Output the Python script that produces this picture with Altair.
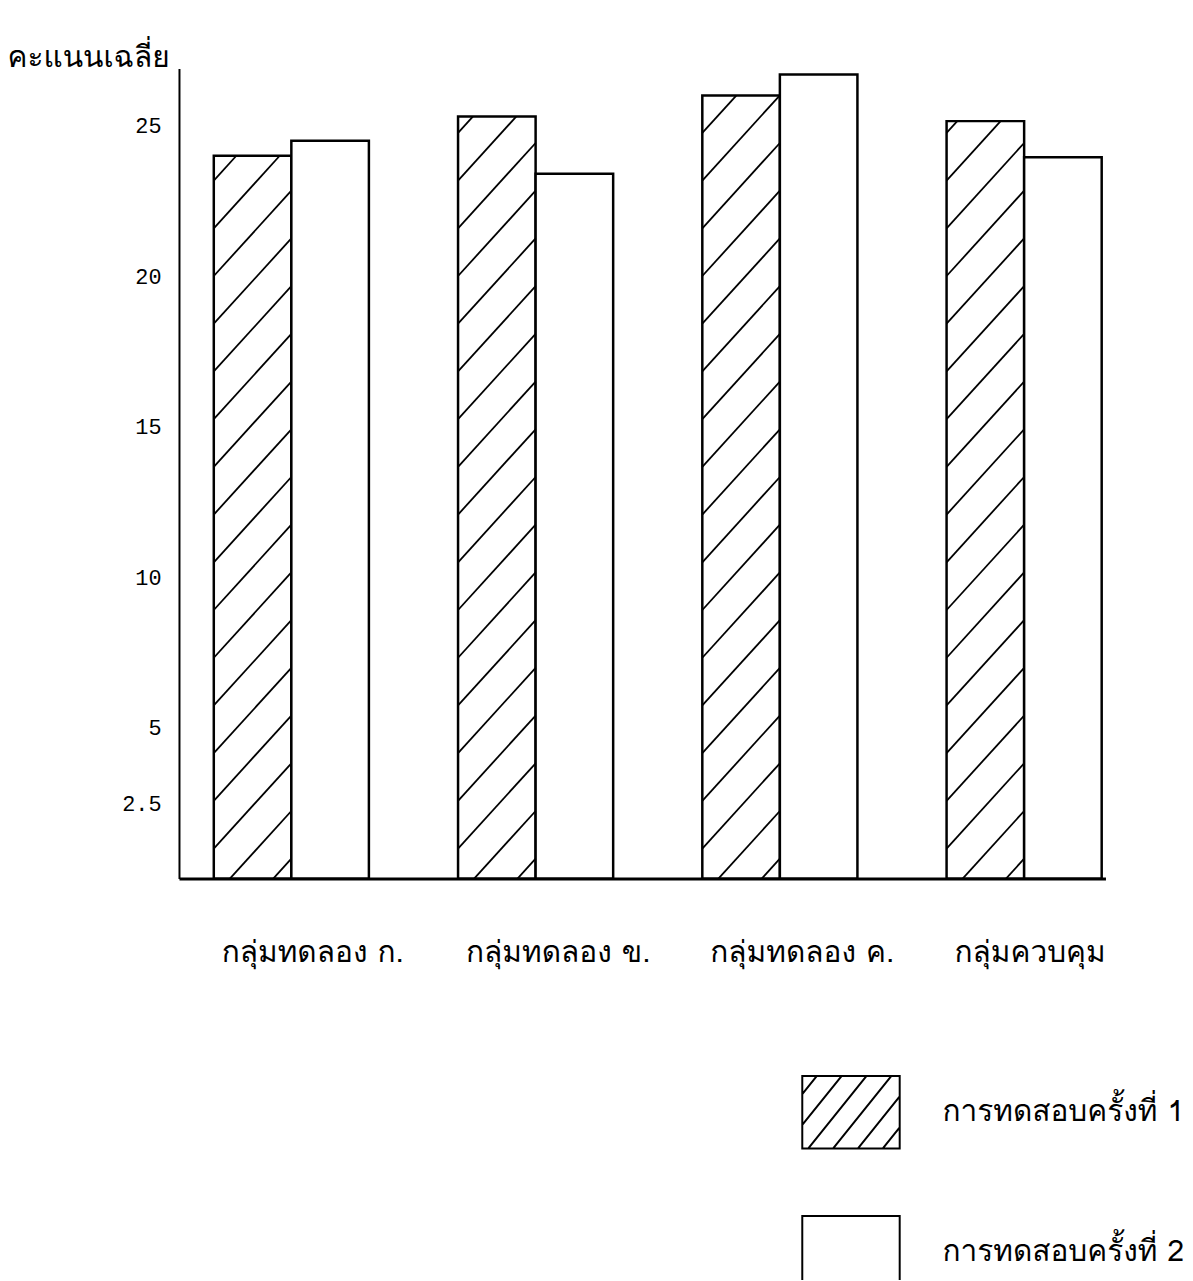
import altair as alt
import pandas as pd

# ---- data ----
groups = ["กลุ่มทดลอง ก.", "กลุ่มทดลอง ข.", "กลุ่มทดลอง ค.", "กลุ่มควบคุม"]
series = ["การทดสอบครั้งที่ 1", "การทดสอบครั้งที่ 2"]
test1 = [24.0, 25.3, 26.0, 25.15]
test2 = [24.5, 23.4, 26.7, 23.95]
y_ticks = [2.5, 5, 10, 15, 20, 25]
y_title = "คะแนนเฉลี่ย"

# ---- layout / style ----
W, H = 932, 815
X_DOMAIN = [-0.46, 3.333]
Y_DOMAIN = [0, 26.9]
HALF = 0.3175          # width of one bar in x units
FONT = "TlwgTypewriter, Tlwg Typewriter, Tlwg Typo, Norasi, Loma, Noto Sans Thai Looped, Noto Serif Thai, Noto Sans Thai, sans-serif"
NUM_FONT = "Liberation Mono, DejaVu Sans Mono, monospace"

px_x = W / (X_DOMAIN[1] - X_DOMAIN[0])
px_y = H / (Y_DOMAIN[1] - Y_DOMAIN[0])

# bars table
bars = []
for i, g in enumerate(groups):
    bars.append(dict(group=g, series=series[0], x=i - HALF, x2=i, y=0, y2=test1[i]))
    bars.append(dict(group=g, series=series[1], x=i, x2=i + HALF, y=0, y2=test2[i]))
bars_df = pd.DataFrame(bars)

# hatch segments inside the first-test bars (derived from the bar values)
SLOPE = 1.1      # px rise per px run
STEP = 48.0      # vertical spacing between hatch lines, px
hatch = []
for i, v in enumerate(test1):
    x0 = (i - HALF - X_DOMAIN[0]) * px_x
    x1 = (i - X_DOMAIN[0]) * px_x
    w = x1 - x0
    h = v * px_y
    c = -SLOPE * w + 20
    while c < h:
        xl = max(x0, x0 + (0 - c) / SLOPE)
        xr = min(x1, x0 + (h - c) / SLOPE)
        if xr > xl + 1:
            ya = c + SLOPE * (xl - x0)
            yb = c + SLOPE * (xr - x0)
            hatch.append(dict(
                x=xl / px_x + X_DOMAIN[0], x2=xr / px_x + X_DOMAIN[0],
                y=ya / px_y, y2=yb / px_y))
        c += STEP
hatch_df = pd.DataFrame(hatch)

labels_df = pd.DataFrame(dict(label=groups, x=[i - HALF for i in range(len(groups))]))
legend_df = pd.DataFrame(dict(series=series))

# legend symbols (custom SVG paths in unit coordinates)
HH = 0.745
box = f"M-1,-{HH}H1V{HH}H-1Z"
D = 1.2
segs = []
b = -1 - D + 0.3
while b < 1:
    xs, ys = b, HH
    xe, ye = b + D, -HH
    if xs < -1:
        ys = HH - (-1 - b) / D * 2 * HH
        xs = -1
    if xe > 1:
        ye = HH - (1 - b) / D * 2 * HH
        xe = 1
    if xe > xs + 0.02:
        segs.append(f"M{xs:.3f},{ys:.3f}L{xe:.3f},{ye:.3f}")
    b += 0.51
hatched_box = box + "".join(segs)

x_scale = alt.Scale(domain=X_DOMAIN, nice=False, zero=False)
y_scale = alt.Scale(domain=Y_DOMAIN, nice=False, zero=False)

x_axis = alt.Axis(title=None, labels=False, ticks=False, grid=False,
                  domainColor="black", domainWidth=3)
y_axis = alt.Axis(values=y_ticks, format=".1~f", ticks=False, grid=False,
                  domainColor="black", domainWidth=2,
                  labelFontSize=22, labelPadding=18, labelColor="black", labelFont=NUM_FONT,
                  title=y_title, titleAngle=0, titleAlign="left",
                  titleBaseline="alphabetic", titleX=-173, titleY=-2,
                  titleFontSize=30, titleFontWeight="normal", titleColor="black",
                  titleFont=FONT)

legend = alt.Legend(
    title=None, orient="none", legendX=626, legendY=1000, padding=0,
    symbolSize=9604, symbolStrokeColor="black", symbolStrokeWidth=2,
    symbolOpacity=1,
    labelFontSize=30, labelFont=FONT, labelColor="black", labelOffset=42,
    rowPadding=50, labelLimit=400,
)

bar_layer = alt.Chart(bars_df).mark_rect(stroke="black", strokeWidth=2.5, fill="white").encode(
    x=alt.X("x:Q", scale=x_scale, axis=x_axis),
    x2="x2:Q",
    y=alt.Y("y:Q", scale=y_scale, axis=y_axis),
    y2="y2:Q",
)

hatch_layer = alt.Chart(hatch_df).mark_rule(color="black", strokeWidth=1.8).encode(
    x=alt.X("x:Q", scale=x_scale, axis=x_axis),
    x2="x2:Q",
    y=alt.Y("y:Q", scale=y_scale, axis=y_axis),
    y2="y2:Q",
)

label_layer = alt.Chart(labels_df).mark_text(
    align="left", baseline="middle", fontSize=30, font=FONT, color="black", dx=8
).encode(
    x=alt.X("x:Q", scale=x_scale, axis=x_axis),
    y=alt.value(H + 75),
    text="label:N",
)

# legend carrier: points kept outside the clipped plot area; only their legend shows
legend_layer = alt.Chart(legend_df).mark_point(
    clip=True, filled=False, color="black", strokeWidth=2, size=9604, opacity=1
).encode(
    x=alt.value(-3000),
    y=alt.value(-3000),
    shape=alt.Shape("series:N",
                    scale=alt.Scale(domain=series, range=[hatched_box, box]),
                    legend=legend),
)

chart = alt.layer(bar_layer, hatch_layer, label_layer, legend_layer).properties(
    width=W, height=H,
    padding={"left": 172, "top": 57, "right": 80, "bottom": 400},
    autosize=alt.AutoSizeParams(type="none"),
    background="white",
).configure_view(stroke=None)

chart.save("out.html", embed_options={"renderer": "svg", "actions": False})
